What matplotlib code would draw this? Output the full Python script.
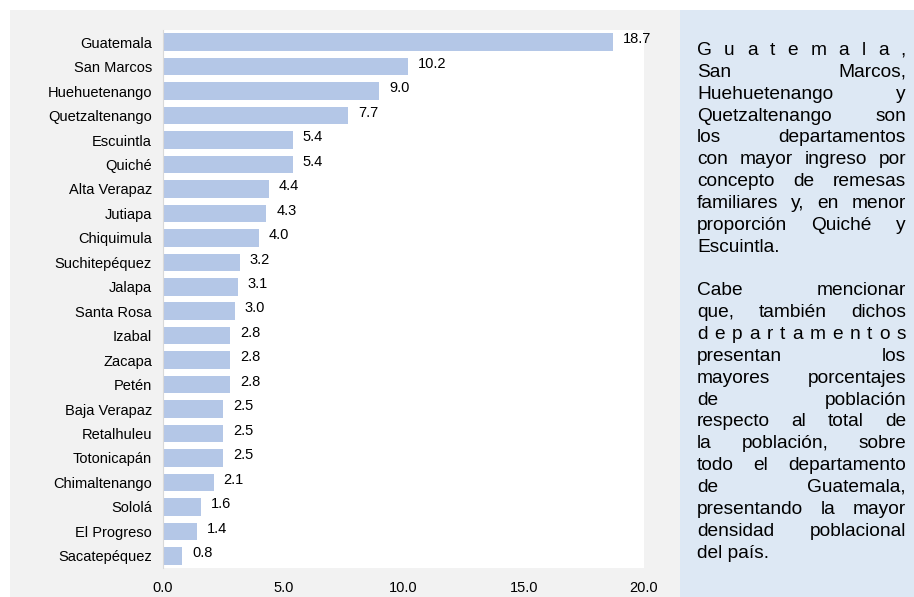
import matplotlib.pyplot as plt
from matplotlib.patches import Rectangle

plt.rcParams['font.family'] = ['Liberation Sans', 'DejaVu Sans']

departamentos = ['Guatemala', 'San Marcos', 'Huehuetenango', 'Quetzaltenango',
                 'Escuintla', 'Quiché', 'Alta Verapaz', 'Jutiapa', 'Chiquimula',
                 'Suchitepéquez', 'Jalapa', 'Santa Rosa', 'Izabal', 'Zacapa',
                 'Petén', 'Baja Verapaz', 'Retalhuleu', 'Totonicapán',
                 'Chimaltenango', 'Sololá', 'El Progreso', 'Sacatepéquez']
porcentajes = [18.7, 10.2, 9.0, 7.7, 5.4, 5.4, 4.4, 4.3, 4.0, 3.2, 3.1, 3.0,
               2.8, 2.8, 2.8, 2.5, 2.5, 2.5, 2.1, 1.6, 1.4, 0.8]
xticks = [0, 5, 10, 15, 20]

# text of the side panel, line by line as it wraps
parrafo1 = ['Guatemala,',
            'San Marcos,',
            'Huehuetenango y',
            'Quetzaltenango son',
            'los departamentos',
            'con mayor ingreso por',
            'concepto de remesas',
            'familiares y, en menor',
            'proporción Quiché y',
            'Escuintla.']
parrafo2 = ['Cabe mencionar',
            'que, también dichos',
            'departamentos',
            'presentan los',
            'mayores porcentajes',
            'de población',
            'respecto al total de',
            'la población, sobre',
            'todo el departamento',
            'de Guatemala,',
            'presentando la mayor',
            'densidad poblacional',
            'del país.']

W, H = 914, 597
fig = plt.figure(figsize=(W / 100, H / 100), dpi=100)
fig.patch.set_facecolor('white')

# background panels
fig.add_artist(Rectangle((10 / W, 0), 670 / W, 587 / H, transform=fig.transFigure,
                         facecolor='#f2f2f2', edgecolor='none', zorder=0))
fig.add_artist(Rectangle((680 / W, 0), 234 / W, 587 / H, transform=fig.transFigure,
                         facecolor='#dde8f4', edgecolor='none', zorder=0))

# title line sits above the top edge, only its descenders show
fig.text(192 / W, 1 + 4.5 / H, '(porcentajes)', ha='center', va='baseline',
         fontsize=16, fontweight='bold')

ax = fig.add_axes([163 / W, 29 / H, 481 / W, 538 / H])
ax.set_facecolor('white')
pos = list(range(len(departamentos)))
bars = ax.barh(pos, porcentajes, height=0.72, color='#b4c7e7')
for b, v in zip(bars, porcentajes):
    ax.annotate(f'{v:.1f}', (v, b.get_y() + b.get_height() / 2),
                xytext=(7, 2), textcoords='offset points',
                ha='left', va='center', fontsize=10.5)

ax.set_ylim(len(departamentos) - 0.5, -0.5)
ax.set_yticks(pos)
ax.set_yticklabels(departamentos, fontsize=10.5)
ax.set_xlim(0, 20)
ax.set_xticks(xticks)
ax.set_xticklabels([f'{t:.1f}' for t in xticks], fontsize=10.5)
ax.tick_params(length=0)
ax.tick_params(axis='y', pad=8)
ax.tick_params(axis='x', pad=9)
for s in ['top', 'right', 'bottom']:
    ax.spines[s].set_visible(False)
ax.spines['left'].set_color('#d9d9d9')

# justified paragraphs in the side panel
renderer = fig.canvas.get_renderer()
x0, x1 = 697, 906
fs = 13.8


def ancho(s):
    t = fig.text(0, 0, s, fontsize=fs)
    w = t.get_window_extent(renderer).width
    t.remove()
    return w


def linea(txt, base, ultima):
    y = 1 - base / H
    if ultima:
        fig.text(x0 / W, y, txt, fontsize=fs, va='baseline')
        return
    partes = txt.split()
    if len(partes) == 1:
        partes = list(txt)
    anchos = [ancho(p) for p in partes]
    hueco = (x1 - x0 - sum(anchos)) / (len(partes) - 1)
    x = x0
    for p, w in zip(partes, anchos):
        fig.text(x / W, y, p, fontsize=fs, va='baseline')
        x += w + hueco


paso = 21.85
base = 55
for i, l in enumerate(parrafo1):
    linea(l, base + i * paso, i == len(parrafo1) - 1)
base = 55 + paso * (len(parrafo1) + 1)
for i, l in enumerate(parrafo2):
    linea(l, base + i * paso, i == len(parrafo2) - 1)

fig.savefig('out.png', dpi=100)
